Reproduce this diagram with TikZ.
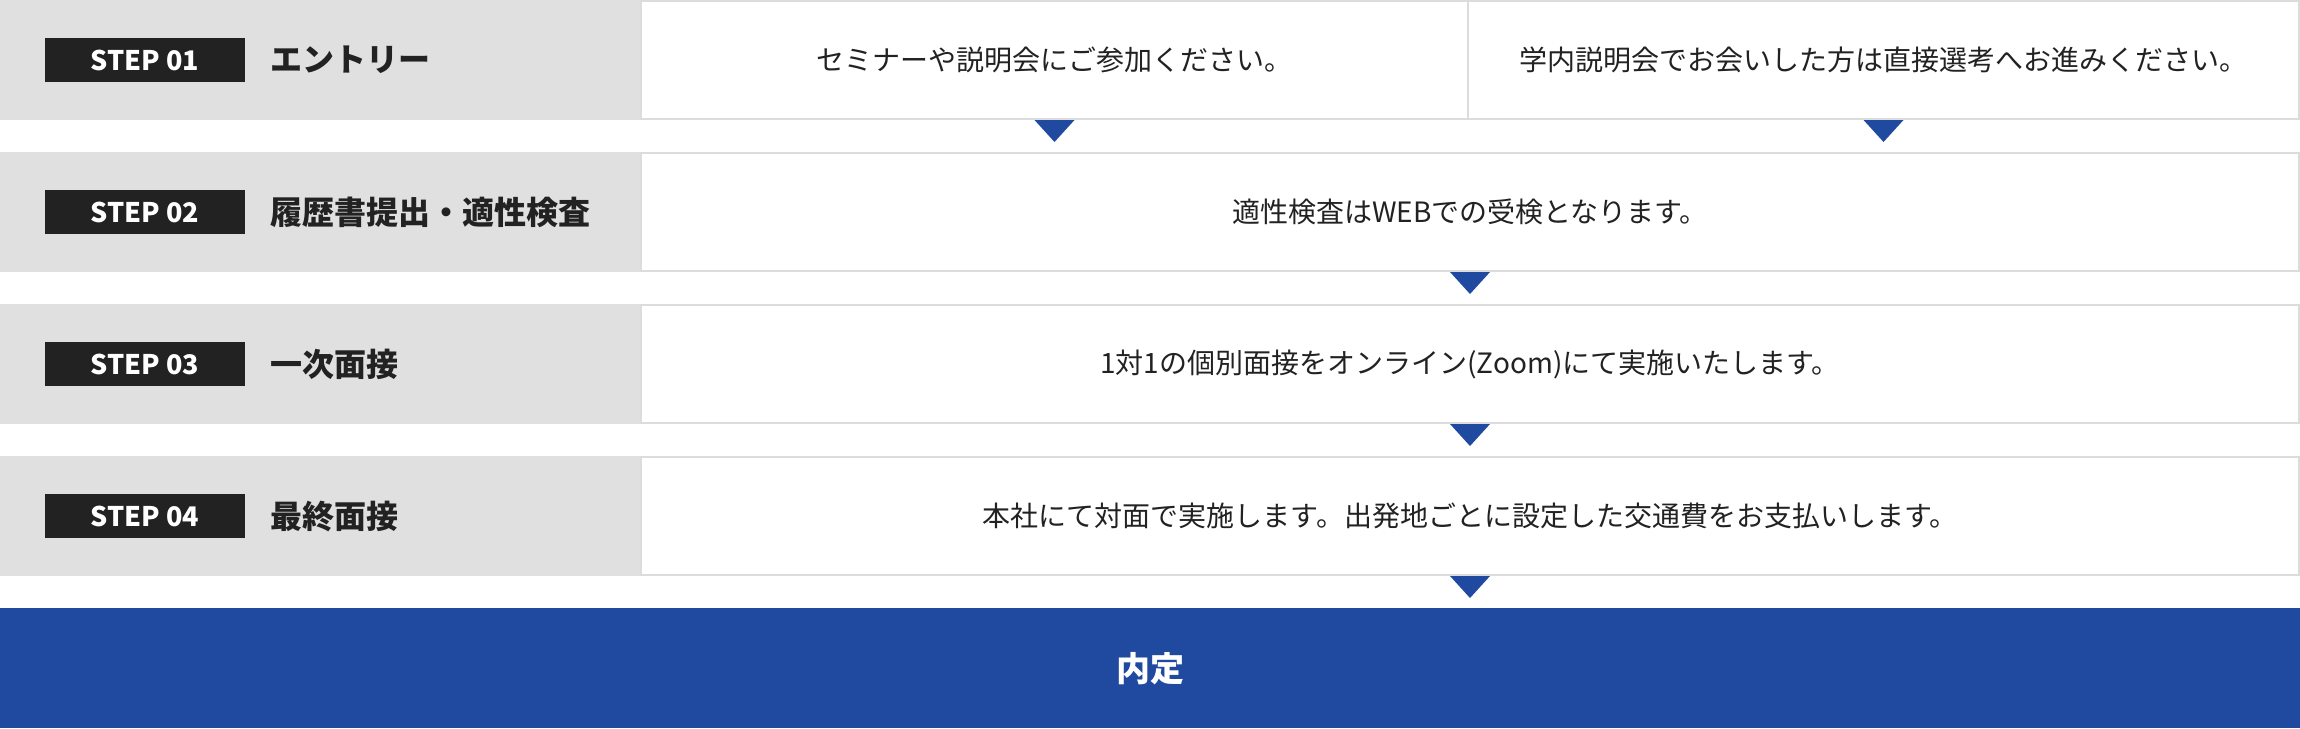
\documentclass[tikz,border=0pt]{standalone}
\usepackage{fontspec}
\setmainfont{Noto Sans CJK JP}
\usetikzlibrary{positioning}

\definecolor{panelgray}{HTML}{E0E0E0}
\definecolor{framegray}{HTML}{DCDCDC}
\definecolor{inkblack}{HTML}{222222}
\definecolor{offerblue}{HTML}{2049A0}

\begin{document}
\begin{tikzpicture}[x=0.5pt,y=-0.5pt,
        rowbg/.style={fill=panelgray, minimum width=320pt, minimum height=60pt, inner sep=0pt, anchor=north west},
        stepbox/.style={fill=inkblack, text=white, font=\bfseries\fontsize{13.5pt}{13.5pt}\selectfont, minimum width=100pt, minimum height=22pt, inner sep=0pt},
        titletext/.style={text=inkblack, font=\bfseries\fontsize{16pt}{16pt}\selectfont, inner sep=0pt},
        infobox/.style={draw=framegray, line width=1pt, fill=white, text=inkblack, font=\fontsize{14pt}{14pt}\selectfont, minimum height=59pt, inner sep=0pt, outer sep=0pt, anchor=north west},
        marker/.style={fill=offerblue}]
        \useasboundingbox (0,0) rectangle (2300,728);
        % STEP 01
        \node[rowbg] (row1) at (0,0) {};
        \node[stepbox] (s1) at (145,60) {STEP 01};
        \node[titletext, right=12.5pt of s1] (t1) {エントリー};
        \node[infobox, minimum width=413.5pt] (b1a) at (641,1) {セミナーや説明会にご参加ください。};
        \node[infobox, minimum width=415.5pt, right=0pt of b1a] (b1b) {学内説明会でお会いした方は直接選考へお進みください。};
        \fill[marker] (b1a.south) +(-20,1) -- +(20,1) -- +(0,23) -- cycle;
        \fill[marker] (b1b.south) +(-20,1) -- +(20,1) -- +(0,23) -- cycle;
        % STEP 02
        \node[rowbg] (row2) at (0,152) {};
        \node[stepbox] (s2) at (145,212) {STEP 02};
        \node[titletext, right=12.5pt of s2] (t2) {履歴書提出・適性検査};
        \node[infobox, minimum width=829pt] (b2) at (641,153) {適性検査はWEBでの受検となります。};
        \fill[marker] (b2.south) +(-20,1) -- +(20,1) -- +(0,23) -- cycle;
        % STEP 03
        \node[rowbg] (row3) at (0,304) {};
        \node[stepbox] (s3) at (145,364) {STEP 03};
        \node[titletext, right=12.5pt of s3] (t3) {一次面接};
        \node[infobox, minimum width=829pt] (b3) at (641,305) {1対1の個別面接をオンライン(Zoom)にて実施いたします。};
        \fill[marker] (b3.south) +(-20,1) -- +(20,1) -- +(0,23) -- cycle;
        % STEP 04
        \node[rowbg] (row4) at (0,456) {};
        \node[stepbox] (s4) at (145,516) {STEP 04};
        \node[titletext, right=12.5pt of s4] (t4) {最終面接};
        \node[infobox, minimum width=829pt] (b4) at (641,457) {本社にて対面で実施します。出発地ごとに設定した交通費をお支払いします。};
        \fill[marker] (b4.south) +(-20,1) -- +(20,1) -- +(0,23) -- cycle;
        % result
        \node[fill=offerblue, text=white, font=\bfseries\fontsize{17pt}{17pt}\selectfont, minimum width=1150pt, minimum height=60pt, inner sep=0pt, anchor=north west] (offer) at (0,608) {内定};
    \end{tikzpicture}
\end{document}
